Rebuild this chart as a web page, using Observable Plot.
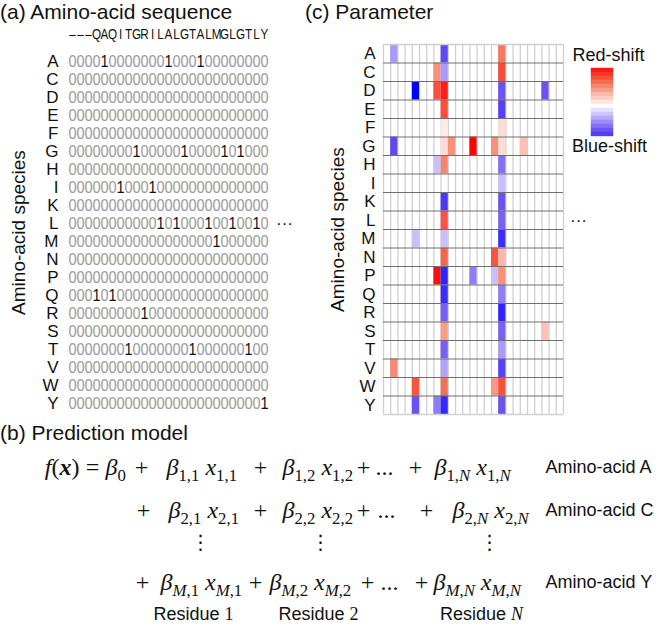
<!DOCTYPE html>
<html><head><meta charset="utf-8">
<script src="https://cdn.jsdelivr.net/npm/d3@7"></script>
<script src="https://cdn.jsdelivr.net/npm/@observablehq/plot@0.6"></script>
<style>
html,body{margin:0;padding:0;background:#fff;}
#fig{position:relative;width:660px;height:628px;overflow:hidden;font-family:"Liberation Sans",Arial,Helvetica,sans-serif;color:#111;background:#fff;}
.title{position:absolute;font-size:21px;line-height:24px;white-space:nowrap;color:#111;}
</style></head><body>
<div id="fig"></div>
<script>
// ---------- DATA ----------
const aminoAcids = ["A","C","D","E","F","G","H","I","K","L","M","N","P","Q","R","S","T","V","W","Y"];
const sequence = ["–","–","–","Q","A","Q","I","T","G","R","I","L","A","L","G","T","A","L","M","G","L","G","T","L","Y"];
const oneHotRows = [
  "0000100000001000100000000", // A
  "0000000000000000000000000", // C
  "0000000000000000000000000", // D
  "0000000000000000000000000", // E
  "0000000000000000000000000", // F
  "0000000010000010000101000", // G
  "0000000000000000000000000", // H
  "0000001000100000000000000", // I
  "0000000000000000000000000", // K
  "0000000000010100010010010", // L
  "0000000000000000001000000", // M
  "0000000000000000000000000", // N
  "0000000000000000000000000", // P
  "0001010000000000000000000", // Q
  "0000000001000000000000000", // R
  "0000000000000000000000000", // S
  "0000000100000001000000100", // T
  "0000000000000000000000000", // V
  "0000000000000000000000000", // W
  "0000000000000000000000001"  // Y
];
// [amino acid, residue position (1-based), parameter value]; blank cells are 0
const parameterCells = [
  ["A",2,-0.35],["A",9,-0.65],["A",17,0.55],
  ["C",8,0.45],["C",9,-0.35],["C",17,0.72],
  ["D",5,-1.0],["D",8,0.7],["D",9,0.88],["D",17,-0.6],["D",23,-0.6],
  ["E",9,0.7],["E",17,-0.68],
  ["F",9,0.08],["F",17,0.14],
  ["G",2,-0.65],["G",9,0.14],["G",10,0.45],["G",13,1.0],["G",16,0.45],["G",17,0.14],["G",20,0.25],
  ["H",8,-0.22],["H",9,0.5],["H",17,-0.5],
  ["I",17,-0.22],
  ["K",9,-0.72],["K",17,-0.6],
  ["L",9,0.68],["L",17,-0.55],
  ["M",5,-0.22],["M",9,-0.22],["M",17,-0.78],
  ["N",9,0.62],["N",16,0.68],["N",17,0.3],
  ["P",8,0.95],["P",9,-0.82],["P",13,-0.45],["P",16,-0.22],["P",17,0.45],
  ["Q",9,-0.78],["Q",17,-0.45],
  ["R",9,-0.55],["R",17,-0.82],
  ["S",9,0.4],["S",17,-0.55],["S",23,0.25],
  ["T",9,-0.55],["T",17,-0.35],
  ["V",2,0.48],["V",9,-0.32],["V",17,-0.68],
  ["W",5,0.68],["W",9,0.58],["W",16,0.42],["W",17,0.7],
  ["Y",5,-0.6],["Y",8,-0.45],["Y",9,-0.8],["Y",17,-0.6]
];
const colorbarSteps = [0.9,0.8,0.7,0.6,0.5,0.4,0.3,0.2,0.1,0,-0.1,-0.2,-0.3,-0.4,-0.5,-0.6,-0.7];
const colorbarLabels = ["Red-shift","Blue-shift"];
const colorStops = [-1,-0.6,0,0.6,1];
const colorRange = ["#0000ff","#6b52f2","#ffffff","#f46c50","#ff0000"];
const panelTitles = ["(a) Amino-acid sequence","(c) Parameter","(b) Prediction model"];
const speciesTitle = "Amino-acid species";
const ellipsisRow = "L";
// prediction model content
const modelRows = [
  {sub:"1", label:"Amino-acid A"},
  {sub:"2", label:"Amino-acid C"},
  {sub:"M", label:"Amino-acid Y"}
];
const modelCols = ["1","2","N"];
const residueLabels = ["Residue $1$","Residue $2$","Residue $N$"];

// ---------- LAYOUT (px) ----------
const sansFont = '"Liberation Sans", Arial, Helvetica, sans-serif';
const mathFont = '"Liberation Serif", "Times New Roman", serif';
const formulaLayout = {
  rowY: [47, 90, 162], vdotsY: 122, residueY: 194,
  lead: {fEnd: 79, eq: 92, b0: 105},
  rows: [
    {p0:141, t:[166,282,434], p1:260, p2:363, dots:384, p3:415, label:545},
    {p0:143, t:[168,282,452], p1:260, p2:363, dots:386, p3:426, label:545},
    {p0:142, t:[160,269,433], p1:255, p2:367, dots:389, p3:421, label:545}
  ],
  vdotsX: [200, 320, 489],
  residueX: [193, 318, 481]
};

const fig = document.getElementById("fig");
function place(node, left, top) {
  node.style.position = "absolute";
  node.style.left = left + "px";
  node.style.top = top + "px";
  node.style.background = "transparent";
  node.style.overflow = "visible";
  fig.appendChild(node);
  return node;
}
const baseStyle = {fontFamily: sansFont, fontSize: "17px", background: "transparent", color: "#111", overflow: "visible"};
const colorScale = {type: "linear", domain: colorStops, range: colorRange, interpolate: "rgb"};

// ---------- PANEL (a) ----------
const positions = sequence.map((_, j) => j + 1);
const oneHotCells = aminoAcids.flatMap((aa, i) => Array.from(oneHotRows[i], (d, j) => ({aa, pos: j + 1, d})));
const headerCells = sequence.map((s, j) => ({pos: j + 1, s}));

const panelA = Plot.plot({
  width: 330, height: 420,
  marginTop: 51, marginBottom: 7, marginLeft: 67, marginRight: 62,
  style: baseStyle,
  x: {type: "band", domain: positions, padding: 0, axis: null},
  y: {type: "band", domain: aminoAcids, padding: 0, tickSize: 0, tickPadding: 9, label: null},
  marks: [
    Plot.text(oneHotCells.filter(c => c.d === "0"), {x: "pos", y: "aa", text: "d", fill: "#9a9a9a", fontSize: 16.5}),
    Plot.text(oneHotCells.filter(c => c.d === "1"), {x: "pos", y: "aa", text: "d", fill: "#111", fontSize: 16.5}),
    Plot.text(headerCells, {x: "pos", text: "s", frameAnchor: "top", lineAnchor: "middle", dy: -17, fontSize: 15, fill: "#111"}),
    Plot.text([ellipsisRow], {y: d => d, text: () => "···", frameAnchor: "right", textAnchor: "middle", lineAnchor: "middle", dx: 16, fontSize: 17}),
    Plot.text([speciesTitle], {text: d => d, frameAnchor: "left", textAnchor: "middle", lineAnchor: "middle", rotate: -90, dx: -49, fontSize: 19})
  ]
});
place(panelA, 0, 0);
// condense the digit / sequence glyphs horizontally
{
  const groups = panelA.querySelectorAll('g[aria-label="text"]');
  [[0, 0.88], [1, 0.88], [2, 0.78]].forEach(([gi, s]) => {
    if (!groups[gi]) return;
    groups[gi].querySelectorAll("text").forEach(t => {
      const tr = t.getAttribute("transform");
      if (tr) t.setAttribute("transform", tr + ` scale(${s},1)`);
    });
  });
}

// ---------- PANEL (c) ----------
const rowIndex = aa => aminoAcids.indexOf(aa);
const panelC = Plot.plot({
  width: 330, height: 420,
  marginTop: 44, marginBottom: 6, marginLeft: 53, marginRight: 97,
  style: baseStyle,
  x: {domain: [0, positions.length], axis: null},
  y: {domain: [0, aminoAcids.length], reverse: true,
      ticks: aminoAcids.map((_, i) => i + 0.5), tickFormat: v => aminoAcids[Math.floor(v)],
      tickSize: 0, tickPadding: 8, label: null},
  color: colorScale,
  marks: [
    Plot.ruleX(d3.range(positions.length + 1), {stroke: "#d0d0d0", strokeWidth: 1.3}),
    Plot.rect(parameterCells, {
      x1: d => d[1] - 1, x2: d => d[1],
      y1: d => rowIndex(d[0]), y2: d => rowIndex(d[0]) + 1,
      fill: d => d[2]
    }),
    Plot.ruleY(d3.range(1, aminoAcids.length), {stroke: "#6e6e6e", strokeWidth: 1}),
    Plot.ruleY([0, aminoAcids.length], {stroke: "#d0d0d0", strokeWidth: 1.3}),
    Plot.text([ellipsisRow], {y: d => rowIndex(d) + 0.5, text: () => "···", frameAnchor: "right", textAnchor: "middle", lineAnchor: "middle", dx: 15, fontSize: 17}),
    Plot.text([speciesTitle], {text: d => d, frameAnchor: "left", textAnchor: "middle", lineAnchor: "middle", rotate: -90, dx: -46, fontSize: 19})
  ]
});
place(panelC, 330, 0);

// ---------- COLOUR BAR ----------
const legend = Plot.plot({
  width: 90, height: 110,
  marginTop: 23, marginBottom: 17, marginLeft: 18, marginRight: 50,
  style: {...baseStyle, fontSize: "18px"},
  x: {axis: null},
  y: {type: "band", domain: colorbarSteps, padding: 0, axis: null},
  color: colorScale,
  marks: [
    Plot.cell(colorbarSteps, {y: d => d, fill: d => d, stroke: d => d, strokeWidth: 0.4, inset: 0}),
    Plot.text([colorbarLabels[0]], {text: d => d, frameAnchor: "top", lineAnchor: "middle", dy: -12, dx: 6}),
    Plot.text([colorbarLabels[1]], {text: d => d, frameAnchor: "bottom", lineAnchor: "middle", dy: 9, dx: 7})
  ]
});
place(legend, 573, 44);

// ---------- PANEL (b) ----------
const L = formulaLayout;
const mathStart = [], mathMid = [], mathEnd = [], labelTokens = [];
mathEnd.push({x: L.lead.fEnd, y: L.rowY[0], t: "$f(*x*)$"});
mathMid.push({x: L.lead.eq, y: L.rowY[0], t: "$=$"});
mathStart.push({x: L.lead.b0, y: L.rowY[0], t: "$β_{0}$"});
modelRows.forEach((r, i) => {
  const R = L.rows[i], y = L.rowY[i];
  mathMid.push({x: R.p0, y, t: "$+$"});
  modelCols.forEach((c, j) => mathStart.push({x: R.t[j], y, t: `$β_{${r.sub},${c}} x_{${r.sub},${c}}$`}));
  mathMid.push({x: R.p1, y, t: "$+$"}, {x: R.p2, y, t: "$+$"}, {x: R.dots, y, t: "$...$"}, {x: R.p3, y, t: "$+$"});
  labelTokens.push({x: R.label, y, t: r.label});
});
const vdots = modelCols.map((c, j) => ({x: L.vdotsX[j], y: L.vdotsY, t: "⋮"}));
const residues = residueLabels.map((t, j) => ({x: L.residueX[j], y: L.residueY, t}));

const panelB = Plot.plot({
  width: 660, height: 208, margin: 0,
  style: {...baseStyle, fontSize: "18px"},
  x: {domain: [0, 660], range: [0, 660], axis: null},
  y: {domain: [0, 208], range: [0, 208], axis: null},
  marks: [
    Plot.text(mathStart, {x: "x", y: "y", text: "t", textAnchor: "start", lineAnchor: "middle", fontSize: 24, fontFamily: mathFont}),
    Plot.text(mathMid, {x: "x", y: "y", text: "t", textAnchor: "middle", lineAnchor: "middle", fontSize: 24, fontFamily: mathFont}),
    Plot.text(mathEnd, {x: "x", y: "y", text: "t", textAnchor: "end", lineAnchor: "middle", fontSize: 24, fontFamily: mathFont}),
    Plot.text(labelTokens, {x: "x", y: "y", text: "t", textAnchor: "start", lineAnchor: "middle", fontSize: 18}),
    Plot.text(vdots, {x: "x", y: "y", text: "t", textAnchor: "middle", lineAnchor: "middle", fontSize: 20, fontFamily: '"DejaVu Sans", sans-serif'}),
    Plot.text(residues, {x: "x", y: "y", text: "t", textAnchor: "middle", lineAnchor: "middle", fontSize: 18})
  ]
});
place(panelB, 0, 420);

// typeset $math$, _{subscript} and *bold* inside the formula texts
const SUB = 6;
function typeset(el) {
  const src = el.textContent;
  if (!src.includes("$")) return;
  el.textContent = "";
  el.style.whiteSpace = "pre";
  let math = false, sub = false, bold = false, shifted = false, cur = null;
  const segs = [];
  for (let i = 0; i < src.length; i++) {
    const c = src[i];
    if (c === "$") { math = !math; continue; }
    if (math && c === "_" && src[i + 1] === "{") { sub = true; i++; continue; }
    if (sub && c === "}") { sub = false; continue; }
    if (math && c === "*") { bold = !bold; continue; }
    const letter = math && /[A-Za-z\u03b1-\u03c9]/.test(c);
    const key = [math, sub, bold, letter].join();
    if (cur && cur.key === key) cur.text += c;
    else { cur = {key, math, sub, bold, letter, text: c}; segs.push(cur); }
  }
  for (const s of segs) {
    const t = document.createElementNS("http://www.w3.org/2000/svg", "tspan");
    t.textContent = s.text;
    if (s.math) t.setAttribute("font-family", mathFont);
    t.setAttribute("font-style", s.letter ? "italic" : "normal");
    if (s.bold) t.setAttribute("font-weight", "bold");
    if (s.sub) {
      t.setAttribute("font-size", "0.7em");
      if (!shifted) { t.setAttribute("dy", SUB); shifted = true; }
    } else if (shifted) { t.setAttribute("dy", -SUB); shifted = false; }
    el.appendChild(t);
  }
}
panelB.querySelectorAll("text").forEach(typeset);

// ---------- PANEL TITLES ----------
[[panelTitles[0], 0, 0], [panelTitles[1], 305, 0], [panelTitles[2], 0, 421]].forEach(([t, x, y]) => {
  const d = document.createElement("div");
  d.className = "title";
  d.textContent = t;
  d.style.left = x + "px";
  d.style.top = y + "px";
  fig.appendChild(d);
});
</script>
</body></html>
